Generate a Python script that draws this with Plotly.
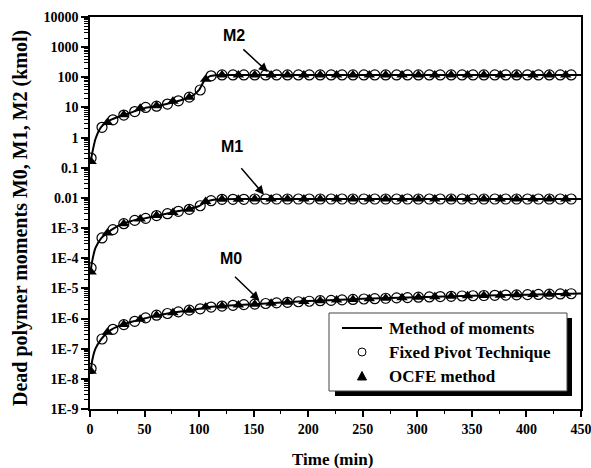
import math
import plotly.graph_objects as go

# ---------------- data ----------------
# Method of moments (continuous curves)
t_line = [0.5, 2, 5, 10, 15, 20, 30, 40, 50, 60, 70, 80, 90, 95, 100, 105, 110, 115, 120,
          150, 200, 250, 300, 350, 400, 450]
m2_line = [0.15, 0.3, 0.9, 2.2, 3.2, 4.0, 5.5, 7.3, 9.5, 11, 13, 16, 21, 26, 38, 80, 110, 118, 120,
           120, 120, 120, 120, 120, 120, 120]
m1_line = [3.5e-5, 8e-5, 2.2e-4, 4.5e-4, 6.5e-4, 8.9e-4, 1.4e-3, 1.8e-3, 2.1e-3, 2.5e-3, 3.0e-3,
           3.6e-3, 4.2e-3, 4.7e-3, 5.4e-3, 7.0e-3, 8.2e-3, 8.8e-3, 9.0e-3,
           9.2e-3, 9.2e-3, 9.2e-3, 9.2e-3, 9.2e-3, 9.2e-3, 9.2e-3]
m0_line = [1.5e-8, 4e-8, 1e-7, 2e-7, 3.2e-7, 4.4e-7, 6.3e-7, 8.1e-7, 1.0e-6, 1.25e-6, 1.45e-6,
           1.65e-6, 1.85e-6, 1.97e-6, 2.1e-6, 2.25e-6, 2.4e-6, 2.5e-6, 2.6e-6,
           3.0e-6, 3.8e-6, 4.5e-6, 5.1e-6, 5.7e-6, 6.2e-6, 6.8e-6]

# Fixed Pivot Technique (open circles), every 10 min
t_fpt = list(range(1, 442, 10))
m2_fpt = [0.21, 2.2, 3.9, 5.6, 7.3, 10, 11, 13, 16.6, 22, 38, 112] + [120] * 33
m1_fpt = [4.8e-5, 4.7e-4, 8.9e-4, 1.4e-3, 1.8e-3, 2.1e-3, 2.6e-3, 3.0e-3, 3.6e-3, 4.2e-3,
          5.5e-3, 8.1e-3] + [9.0e-3] * 3 + [9.2e-3] * 30
m0_fpt = [2.2e-8, 2.1e-7, 4.4e-7, 6.3e-7, 8.1e-7, 1.05e-6, 1.29e-6, 1.47e-6, 1.66e-6, 1.9e-6,
          2.1e-6, 2.4e-6, 2.6e-6, 2.75e-6, 2.9e-6, 3.0e-6, 3.15e-6, 3.3e-6, 3.45e-6, 3.6e-6,
          3.75e-6, 3.9e-6, 4.0e-6, 4.15e-6, 4.3e-6, 4.45e-6, 4.55e-6, 4.7e-6, 4.85e-6, 4.95e-6,
          5.1e-6, 5.2e-6, 5.35e-6, 5.45e-6, 5.6e-6, 5.7e-6, 5.8e-6, 5.9e-6, 6.0e-6, 6.1e-6,
          6.2e-6, 6.3e-6, 6.45e-6, 6.55e-6, 6.65e-6]

# OCFE method (filled triangles), every 15 min
t_ocfe = list(range(1, 437, 15))
m2_ocfe = [0.16, 3.2, 5.7, 9.5, 11.5, 16, 22, 87] + [120] * 22
m1_ocfe = [3.5e-5, 6.9e-4, 1.4e-3, 2.0e-3, 2.6e-3, 3.3e-3, 4.2e-3, 7.6e-3] + [9.0e-3] * 2 + [9.2e-3] * 20
m0_ocfe = [1.8e-8, 3.5e-7, 6.3e-7, 9.5e-7, 1.29e-6, 1.57e-6, 1.9e-6, 2.4e-6, 2.6e-6, 2.8e-6,
           3.0e-6, 3.2e-6, 3.45e-6, 3.7e-6, 3.9e-6, 4.1e-6, 4.3e-6, 4.5e-6, 4.7e-6, 4.9e-6,
           5.1e-6, 5.3e-6, 5.45e-6, 5.65e-6, 5.8e-6, 5.95e-6, 6.1e-6, 6.25e-6, 6.45e-6, 6.6e-6]

y_tickvals = [10.0 ** e for e in range(4, -10, -1)]
y_ticktext = ["10000", "1000", "100", "10", "1", "0.1", "0.01",
              "1E-3", "1E-4", "1E-5", "1E-6", "1E-7", "1E-8", "1E-9"]
x_tickvals = [0, 50, 100, 150, 200, 250, 300, 350, 400, 450]

legend_labels = ["Method of moments", "Fixed Pivot Technique", "OCFE method"]
moment_labels = ["M2", "M1", "M0"]

# ---------------- figure ----------------
SERIF = "Liberation Serif"
SANS = "Liberation Sans"
fig = go.Figure()

for ys in (m2_line, m1_line, m0_line):
    fig.add_trace(go.Scatter(x=t_line, y=ys, mode="lines",
                             line=dict(color="black", width=2, shape="spline", smoothing=0.6),
                             showlegend=False, hoverinfo="skip"))
for ys in (m2_fpt, m1_fpt, m0_fpt):
    fig.add_trace(go.Scatter(x=t_fpt, y=ys, mode="markers",
                             marker=dict(symbol="circle-open", size=10, color="black", line=dict(width=1.2)),
                             showlegend=False))
for ys in (m2_ocfe, m1_ocfe, m0_ocfe):
    fig.add_trace(go.Scatter(x=t_ocfe, y=ys, mode="markers",
                             marker=dict(symbol="triangle-up", size=10, color="black"),
                             showlegend=False))

L, R, T, B = 90, 10, 17, 59
W, H = 591, 468
PW, PH = W - L - R, H - T - B


def px(xp):
    return (xp - L) / PW


def py(yp):
    return (H - B - yp) / PH


tickfont = dict(family=SERIF, size=14, color="black", weight="bold")

fig.update_layout(
    width=W, height=H,
    margin=dict(l=L, r=R, t=T, b=B, pad=0, autoexpand=False),
    paper_bgcolor="white", plot_bgcolor="white",
    showlegend=False,
    xaxis=dict(range=[0, 450], tickmode="array", tickvals=x_tickvals, automargin=False,
               ticklabeloverflow="allow",
               ticks="outside", ticklen=6, tickwidth=1.5, tickcolor="black",
               showline=True, linecolor="black", linewidth=1.5, mirror=True,
               showgrid=False, zeroline=False, tickfont=tickfont,
               minor=dict(ticks="outside", ticklen=3, tickwidth=1, tickcolor="black", dtick=25, tick0=0)),
    yaxis=dict(type="log", range=[-9, 4], tickmode="array", tickvals=y_tickvals, ticktext=y_ticktext,
               automargin=False, ticklabeloverflow="allow",
               ticks="outside", ticklen=7, tickwidth=1.5, tickcolor="black",
               showline=True, linecolor="black", linewidth=1.5, mirror=True,
               showgrid=False, zeroline=False, tickfont=tickfont,
               minor=dict(ticks="outside", ticklen=4, tickwidth=1, tickcolor="black", tickmode="array",
                          tickvals=[k * 10.0 ** e for e in range(-9, 4) for k in range(2, 10)])),
)

# axis titles
fig.add_annotation(text="Time (min)", xref="paper", yref="paper", x=px(332), y=py(459),
                   xanchor="center", yanchor="middle", showarrow=False,
                   font=dict(family=SERIF, size=17, color="black", weight="bold"))
fig.add_annotation(text="Dead polymer moments M0, M1, M2 (kmol)", xref="paper", yref="paper",
                   x=px(20), y=py(218), textangle=-90, xanchor="center", yanchor="middle",
                   showarrow=False, font=dict(family=SERIF, size=20, color="black", weight="bold"))

# moment labels with arrows
lab_pos = [(234, 35), (232, 146), (231, 258)]
arrow_tip = [(163, 150), (159.5, 0.0128), (155.3, 4.0e-6)]
arrow_off = [(-26, -24), (-24, -28), (-26, -25)]
for lab, (lx, ly), (tx, ty), (ax, ay) in zip(moment_labels, lab_pos, arrow_tip, arrow_off):
    fig.add_annotation(text=lab, xref="paper", yref="paper", x=px(lx), y=py(ly),
                       xanchor="center", yanchor="middle", showarrow=False,
                       font=dict(family=SANS, size=16, color="black", weight="bold"))
    fig.add_annotation(x=tx, y=math.log10(ty), xref="x", yref="y", ax=ax, ay=ay, text="",
                       showarrow=True, arrowhead=2, arrowsize=1.2, arrowwidth=1.5, arrowcolor="black")

# custom legend
fig.add_shape(type="rect", xref="paper", yref="paper", x0=px(335), x1=px(572), y0=py(396), y1=py(318),
              fillcolor="black", line=dict(width=0), layer="above")
fig.add_shape(type="rect", xref="paper", yref="paper", x0=px(329), x1=px(567), y0=py(391), y1=py(313),
              fillcolor="white", line=dict(color="#444444", width=1), layer="above")
fig.add_shape(type="line", xref="paper", yref="paper", x0=px(342), x1=px(382), y0=py(328), y1=py(328),
              line=dict(color="black", width=2), layer="above")
fig.add_shape(type="circle", xref="paper", yref="paper", x0=px(358), x1=px(366), y0=py(356), y1=py(348),
              line=dict(color="black", width=1), fillcolor="white", layer="above")
tri = "M {:.5f} {:.5f} L {:.5f} {:.5f} L {:.5f} {:.5f} Z".format(px(357.5), py(380), px(366.5), py(380), px(362), py(371.5))
fig.add_shape(type="path", xref="paper", yref="paper", path=tri, fillcolor="black",
              line=dict(color="black", width=1), layer="above")
for lab, ly in zip(legend_labels, [328, 352, 376]):
    fig.add_annotation(text=lab, xref="paper", yref="paper", x=px(387), y=py(ly),
                       xanchor="left", yanchor="middle", showarrow=False,
                       font=dict(family=SERIF, size=17, color="black", weight="bold"))

fig.write_html("out.html")
